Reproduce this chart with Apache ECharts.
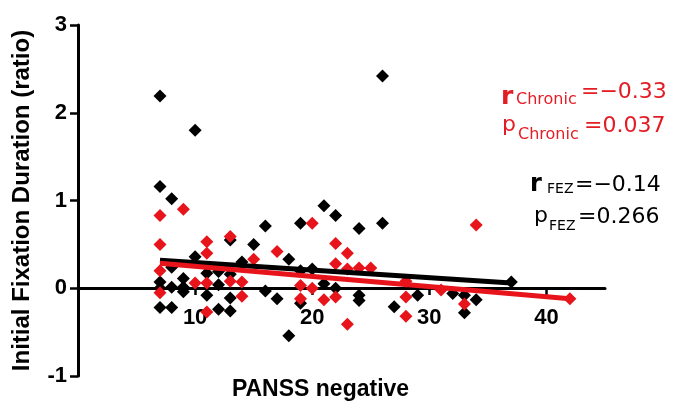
<!DOCTYPE html>
<html>
<head>
<meta charset="utf-8">
<script src="https://cdn.jsdelivr.net/npm/echarts@6/dist/echarts.min.js"></script>
<style>
html,body{margin:0;padding:0;background:#fff;}
#chart{width:673px;height:408px;}
</style>
</head>
<body>
<div id="chart"></div>
<script>
// FEZ group (black)
const fezX = [7,7,7,7,7, 8,8,8,8, 9,9,9, 10,10, 11,11, 12,12,12, 13,13,13,13, 14, 15, 16,16, 17, 18,18, 19,19,19, 20, 21,21, 22,22, 24,24,24, 26,26, 27, 29, 32, 33,33, 34, 37];
const fezY = [2.19,1.16,0.07,0.0,-0.22, 1.02,0.24,0.01,-0.22, 0.11,0.01,-0.04, 1.80,0.36, 0.17,-0.08, 0.19,0.04,-0.24, 0.55,0.16,-0.11,-0.26, 0.30, 0.50, 0.71,-0.03, -0.12, 0.33,-0.54, 0.74,0.20,-0.17, 0.22, 0.94,0.05, 0.83,0.0, 0.68,-0.08,-0.14, 2.42,0.74, -0.21, -0.08, -0.06, -0.08,-0.28, -0.13, 0.07];
// Chronic group (red)
const chronicX = [7,7,7,7, 9, 10, 11,11,11,11, 13,13, 14,14, 15, 17, 19,19, 20,20, 21, 22,22,22, 23,23,23, 24, 25, 28,28,28, 31, 33, 34, 42];
const chronicY = [0.83,0.50,0.20,-0.05, 0.90, 0.06, 0.53,0.40,0.06,-0.27, 0.59,0.08, 0.07,-0.09, 0.33, 0.42, 0.03,-0.12, 0.74,0.0, -0.13, 0.51,0.28,-0.10, 0.40,0.22,-0.41, 0.23, 0.23, 0.08,-0.10,-0.32, -0.02, -0.18, 0.72, -0.12];
// Regression lines (end points)
const fezFitX = [7, 37];
const fezFitY = [0.32, 0.06];
const chronicFitX = [7, 42];
const chronicFitY = [0.285, -0.12];
// Axes
const xTicks = [10, 20, 30, 40];
const yTicks = [-1, 0, 1, 2, 3];
const xTitle = 'PANSS negative';
const yTitle = 'Initial Fixation Duration (ratio)';
// Stats
const rChronic = '=\u22120.33';
const pChronic = '=0.037';
const rFez = '=\u22120.14';
const pFez = '=0.266';

const zip = (a, b) => a.map((v, i) => [v, b[i]]);
const RED = '#e8141b';
const RED_TXT = '#e31d25';
const statFont = '"DejaVu Sans", sans-serif';
const axisFont = 'Liberation Sans, Arial, sans-serif';

function txt(x, y, text, size, color, weight) {
  return {
    type: 'text', x: x, y: y,
    style: {
      text: text, fill: color,
      font: (weight || 'normal') + ' ' + size + 'px ' + statFont,
      textAlign: 'left', textVerticalAlign: 'middle', align: 'left', verticalAlign: 'middle'
    }
  };
}

const chart = echarts.init(document.getElementById('chart'));
chart.setOption({
  backgroundColor: '#fff',
  animation: false,
  grid: [
    // data grid: y from -1 to 3
    { left: 78, top: 25, width: 527, height: 351, containLabel: false, outerBoundsMode: 'none' },
    // upper grid whose bottom edge sits at y = 0, used to draw the x axis there
    { left: 78, top: 25, width: 527, height: 263, containLabel: false, outerBoundsMode: 'none' }
  ],
  xAxis: [
    { gridIndex: 0, type: 'value', min: 0, max: 45, interval: 10, show: false },
    {
      gridIndex: 1, type: 'value', min: 0, max: 45, interval: 10,
      name: xTitle, nameLocation: 'middle', nameGap: 90,
      nameTextStyle: { fontFamily: axisFont, fontWeight: 'bold', fontSize: 23, color: '#000', padding: [0, 42, 0, 0] },
      axisLine: { onZero: false, lineStyle: { color: '#000', width: 3 } },
      axisTick: { show: true, length: 7, inside: false, customValues: xTicks, lineStyle: { color: '#000', width: 2.5 } },
      axisLabel: { customValues: xTicks, margin: 19, fontFamily: axisFont, fontWeight: 'bold', fontSize: 22, color: '#000' },
      splitLine: { show: false }
    }
  ],
  yAxis: [
    {
      gridIndex: 0, type: 'value', min: -1, max: 3, interval: 1,
      name: yTitle, nameLocation: 'middle', nameGap: 44, nameRotate: 90,
      nameTextStyle: { fontFamily: axisFont, fontWeight: 'bold', fontSize: 24, color: '#000' },
      axisLine: { show: true, onZero: false, lineStyle: { color: '#000', width: 3 } },
      axisTick: { show: true, length: 8, lineStyle: { color: '#000', width: 2.5 } },
      axisLabel: { customValues: yTicks, margin: 11, fontFamily: axisFont, fontWeight: 'bold', fontSize: 22, color: '#000' },
      splitLine: { show: false }
    },
    { gridIndex: 1, type: 'value', min: 0, max: 3, show: false }
  ],
  series: [
    { name: 'FEZ', type: 'scatter', symbol: 'diamond', symbolSize: 13, itemStyle: { color: '#000', opacity: 1 }, data: zip(fezX, fezY), z: 2 },
    { name: 'Chronic', type: 'scatter', symbol: 'diamond', symbolSize: 13, itemStyle: { color: RED, opacity: 1 }, data: zip(chronicX, chronicY), z: 3 },
    { name: 'FEZ fit', type: 'line', showSymbol: false, symbol: 'none', lineStyle: { color: '#000', width: 5 }, data: zip(fezFitX, fezFitY), z: 4 },
    { name: 'Chronic fit', type: 'line', showSymbol: false, symbol: 'none', lineStyle: { color: RED, width: 5 }, data: zip(chronicFitX, chronicFitY), z: 5 }
  ],
  graphic: [
    txt(501, 97.5, 'r', 25, RED_TXT, 'bold'),
    txt(516, 100, 'Chronic', 16, RED_TXT),
    txt(581, 92, rChronic, 22, RED_TXT),
    txt(502, 125.5, 'p', 22, RED_TXT),
    txt(518, 135, 'Chronic', 16, RED_TXT),
    txt(584, 126, pChronic, 22, RED_TXT),
    txt(530, 185, 'r', 24, '#000', 'bold'),
    txt(547, 189, 'FEZ', 14, '#000'),
    txt(575, 185, rFez, 22, '#000'),
    txt(534, 216, 'p', 22, '#000'),
    txt(549, 226, 'FEZ', 14, '#000'),
    txt(578, 217.5, pFez, 22, '#000')
  ]
});
</script>
</body>
</html>
